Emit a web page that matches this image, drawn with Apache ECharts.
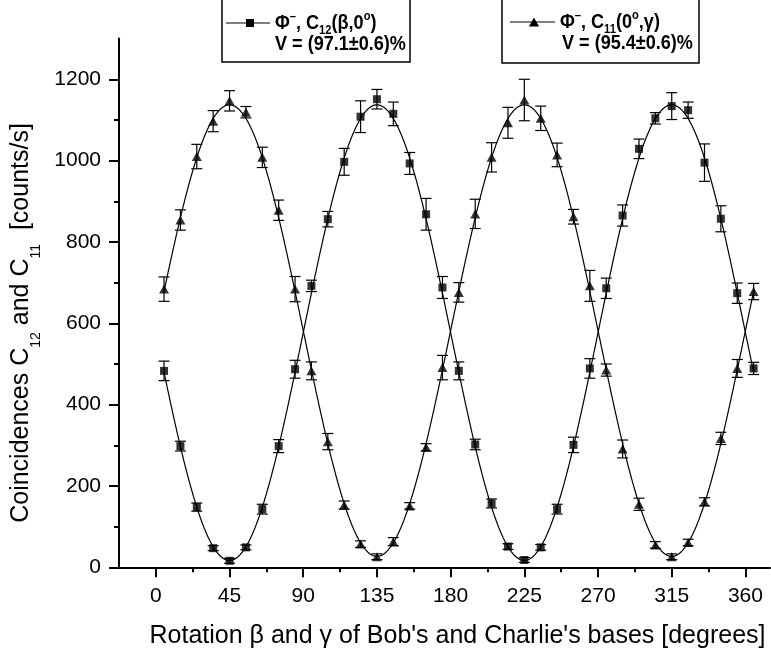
<!DOCTYPE html>
<html>
<head>
<meta charset="utf-8">
<script src="https://cdn.jsdelivr.net/npm/echarts@6/dist/echarts.min.js"></script>
<style>
  html, body { margin: 0; padding: 0; background: #fff; }
  #chart { width: 771px; height: 654px; }
</style>
</head>
<body>
<div id="chart"></div>
<script>
// Rotation angle of the measurement basis [degrees]
const angles = [5, 15, 25, 35, 45, 55, 65, 75, 85, 95, 105, 115, 125, 135, 145, 155, 165, 175,
  185, 195, 205, 215, 225, 235, 245, 255, 265, 275, 285, 295, 305, 315, 325, 335, 345, 355, 365];

// Coincidences C12(beta, 0deg) [counts/s] and their errors
const c12Counts = [483, 298, 148, 47, 16, 49, 143, 298, 487, 692, 856, 997, 1108, 1151, 1115, 993, 868, 688,
  483, 302, 157, 51, 18, 49, 143, 301, 489, 686, 865, 1029, 1104, 1134, 1124, 995, 857, 674, 489];
const c12Errors = [24, 12, 10, 6, 6, 6, 12, 16, 22, 14, 19, 33, 39, 24, 29, 27, 39, 27,
  22, 13, 11, 7, 6, 7, 12, 19, 24, 25, 26, 24, 14, 33, 20, 46, 32, 25, 15];

// Coincidences C11(0deg, gamma) [counts/s] and their errors
const c11Counts = [684, 854, 1010, 1097, 1147, 1119, 1008, 878, 684, 483, 309, 153, 57, 26, 63, 151, 295, 491,
  676, 869, 1008, 1093, 1149, 1104, 1014, 862, 692, 485, 291, 155, 55, 26, 61, 161, 317, 489, 678];
const c11Errors = [30, 25, 30, 26, 25, 14, 25, 25, 31, 22, 20, 10, 8, 7, 10, 8, 9, 30,
  24, 36, 36, 38, 51, 30, 29, 18, 38, 15, 22, 15, 8, 7, 8, 10, 15, 22, 20];

// Fitted interference fringes: C = mean * (1 -/+ V cos 2(theta - 45deg))
const c12Mean = 577, c12Visibility = 0.971;
const c11Mean = 582, c11Visibility = 0.954;

const xTickLabels = [0, 45, 90, 135, 180, 225, 270, 315, 360];
const xMinorTicks = [22.5, 67.5, 112.5, 157.5, 202.5, 247.5, 292.5, 337.5];
const yTickLabels = [0, 200, 400, 600, 800, 1000, 1200];
const yMinorTicks = [100, 300, 500, 700, 900, 1100];

const FONT = 'Liberation Sans, Arial, Helvetica, sans-serif';

function fitCurve(mean, vis, sign) {
  const pts = [];
  for (let t = angles[0]; t <= angles[angles.length - 1] + 1e-9; t += 0.5) {
    pts.push([t, mean * (1 + sign * vis * Math.cos(2 * (t - 45) * Math.PI / 180))]);
  }
  return pts;
}

function errorBars(name, counts, errors) {
  return {
    type: 'custom',
    name: name,
    xAxisIndex: 0, yAxisIndex: 0,
    z: 3,
    data: angles.map((a, i) => [a, counts[i] - errors[i], counts[i] + errors[i]]),
    renderItem: function (params, api) {
      const x = api.value(0);
      const lo = api.coord([x, api.value(1)]);
      const hi = api.coord([x, api.value(2)]);
      const hw = 5.5;
      const st = { stroke: '#000', lineWidth: 1.2 };
      return {
        type: 'group',
        children: [
          { type: 'line', shape: { x1: lo[0], y1: lo[1], x2: hi[0], y2: hi[1] }, style: st },
          { type: 'line', shape: { x1: lo[0] - hw, y1: lo[1], x2: lo[0] + hw, y2: lo[1] }, style: st },
          { type: 'line', shape: { x1: hi[0] - hw, y1: hi[1], x2: hi[0] + hw, y2: hi[1] }, style: st }
        ]
      };
    }
  };
}

const axisLineStyle = { color: '#000', width: 2 };
const legendRich = {
  sup: { fontSize: 13, fontWeight: 'bold', fontFamily: FONT, verticalAlign: 'top', lineHeight: 13, fill: '#000' },
  sub: { fontSize: 13, fontWeight: 'bold', fontFamily: FONT, verticalAlign: 'bottom', lineHeight: 13, fill: '#000' }
};
// legend lettering is a narrow, tall bold face
function legendText(x, y, text) {
  return {
    type: 'text', x: x, y: y, z: 20, scaleX: 0.86,
    style: {
      text: text, fontSize: 21, fontWeight: 'bold', fontFamily: FONT, fill: '#000',
      lineHeight: 27, verticalAlign: 'middle', align: 'left', rich: legendRich
    }
  };
}

const chart = echarts.init(document.getElementById('chart'), null, { renderer: 'canvas' });
chart.setOption({
  animation: false,
  backgroundColor: '#fff',
  textStyle: { fontFamily: FONT, color: '#000' },
  grid: { left: 119, right: 1, top: 38.6, bottom: 86.7, containLabel: false, outerBoundsMode: 'none' },
  xAxis: [
    {
      type: 'value', min: -22.5, max: 375, position: 'bottom',
      name: "Rotation \u03b2 and \u03b3 of Bob's and Charlie's bases [degrees]",
      nameLocation: 'middle', nameGap: 56,
      nameTextStyle: { fontSize: 25, fontFamily: FONT, color: '#000', padding: [0, 0, 0, 26] },
      axisLine: { onZero: false, lineStyle: axisLineStyle },
      axisTick: { customValues: xTickLabels, length: 10, lineStyle: { color: '#000', width: 2 } },
      axisLabel: { customValues: xTickLabels, fontSize: 21, color: '#000', fontFamily: FONT, margin: 18,
        formatter: v => String(v) },
      splitLine: { show: false }
    },
    {
      type: 'value', min: -22.5, max: 375, position: 'bottom',
      axisLine: { show: false, onZero: false },
      axisTick: { customValues: xMinorTicks, length: 5, lineStyle: { color: '#000', width: 2 } },
      axisLabel: { show: false },
      splitLine: { show: false }
    }
  ],
  yAxis: [
    {
      type: 'value', min: 0, max: 1300, position: 'left',
      name: 'Coincidences C{s|12} and C{s|11}  [counts/s]',
      nameLocation: 'middle', nameRotate: 90, nameGap: 53,
      nameTextStyle: {
        fontSize: 25, fontFamily: FONT, color: '#000', lineHeight: 44, padding: [0, 40, 0, 0],
        rich: { s: { fontSize: 14, fontFamily: FONT, color: '#000', lineHeight: 14, verticalAlign: 'bottom' } }
      },
      axisLine: { onZero: false, lineStyle: axisLineStyle },
      axisTick: { customValues: yTickLabels, length: 10, lineStyle: { color: '#000', width: 2 } },
      axisLabel: { customValues: yTickLabels, fontSize: 21, color: '#000', fontFamily: FONT, margin: 18,
        formatter: v => String(v) },
      splitLine: { show: false }
    },
    {
      type: 'value', min: 0, max: 1300, position: 'left',
      axisLine: { show: false, onZero: false },
      axisTick: { customValues: yMinorTicks, length: 5, lineStyle: { color: '#000', width: 2 } },
      axisLabel: { show: false },
      splitLine: { show: false }
    }
  ],
  series: [
    {
      type: 'line', name: 'C12 fit', xAxisIndex: 0, yAxisIndex: 0, z: 2,
      data: fitCurve(c12Mean, c12Visibility, -1),
      showSymbol: false, lineStyle: { color: '#000', width: 1.2 }
    },
    {
      type: 'line', name: 'C11 fit', xAxisIndex: 0, yAxisIndex: 0, z: 2,
      data: fitCurve(c11Mean, c11Visibility, 1),
      showSymbol: false, lineStyle: { color: '#000', width: 1.2 }
    },
    errorBars('C12 errors', c12Counts, c12Errors),
    errorBars('C11 errors', c11Counts, c11Errors),
    {
      type: 'scatter', name: 'C12', xAxisIndex: 0, yAxisIndex: 0, z: 4,
      data: angles.map((a, i) => [a, c12Counts[i]]),
      symbol: 'rect', symbolSize: 8, itemStyle: { color: '#000' }
    },
    {
      type: 'scatter', name: 'C11', xAxisIndex: 0, yAxisIndex: 0, z: 4,
      data: angles.map((a, i) => [a, c11Counts[i]]),
      symbol: 'triangle', symbolSize: [10, 9], itemStyle: { color: '#000' }
    }
  ],
  graphic: [
    // legend box for C12
    { type: 'rect', z: 10, shape: { x: 222, y: -3, width: 188, height: 65 }, style: { fill: '#fff', stroke: '#000', lineWidth: 1.5 } },
    { type: 'line', z: 11, shape: { x1: 226, y1: 23, x2: 270, y2: 23 }, style: { stroke: '#000', lineWidth: 1.2 } },
    { type: 'rect', z: 11, shape: { x: 246, y: 19, width: 8, height: 8 }, style: { fill: '#000' } },
    legendText(275, 23, '\u03a6{sup|\u2013}, C{sub|12}(\u03b2,0{sup|o})'),
    legendText(275, 44, 'V = (97.1\u00b10.6)%'),
    // legend box for C11
    { type: 'rect', z: 10, shape: { x: 502, y: -3, width: 197, height: 66 }, style: { fill: '#fff', stroke: '#000', lineWidth: 1.5 } },
    { type: 'line', z: 11, shape: { x1: 510, y1: 22, x2: 555, y2: 22 }, style: { stroke: '#000', lineWidth: 1.2 } },
    { type: 'polygon', z: 11, shape: { points: [[534, 17.5], [539, 26.5], [529, 26.5]] }, style: { fill: '#000' } },
    legendText(560, 22, '\u03a6{sup|\u2013}, C{sub|11}(0{sup|o},\u03b3)'),
    legendText(562, 43, 'V = (95.4\u00b10.6)%')
  ]
});
</script>
</body>
</html>
